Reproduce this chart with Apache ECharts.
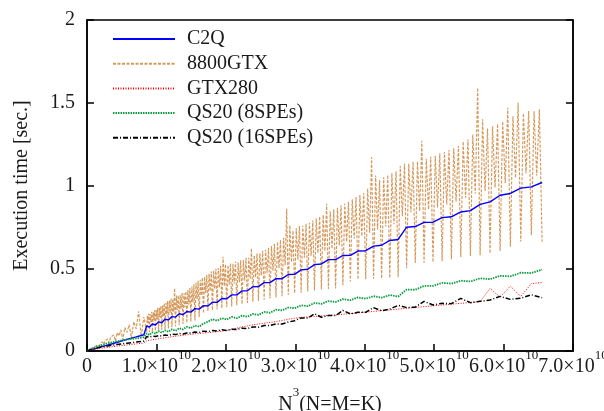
<!DOCTYPE html>
<html>
<head>
<meta charset="utf-8">
<script src="https://cdn.jsdelivr.net/npm/echarts@6/dist/echarts.min.js"></script>
<style>html,body{margin:0;padding:0;background:#fff;}#c{width:604px;height:411px;}</style>
</head>
<body>
<div id="c"></div>
<script>
// Series names
const seriesNames = ['C2Q', '8800GTX', 'GTX280', 'QS20 (8SPEs)', 'QS20 (16SPEs)'];

// Matrix sizes N (x = N^3) for the 8800GTX run
const nGtx8800 = [64,128,192,256,320,384,448,512,576,640,704,768,832,896,960,1024,
1056,1088,1120,1152,1184,1216,1248,1280,1312,1344,1376,1408,1440,1472,1504,1536,1568,1600,1632,1664,1696,1728,1760,1792,1824,1856,1888,1920,1952,1984,2016,2048,
2056,2064,2072,2080,2088,2096,2104,2112,2120,2128,2136,2144,2152,2160,2168,2176,
2184,2192,2200,2208,2216,2224,2232,2240,2248,2256,2264,2272,2280,2288,2296,2304,
2312,2320,2328,2336,2344,2352,2360,2368,2376,2384,2392,2400,2408,2416,2424,2432,
2440,2448,2456,2464,2472,2480,2488,2496,2504,2512,2520,2528,2536,2544,2552,2560,
2568,2576,2584,2592,2600,2608,2616,2624,2632,2640,2648,2656,2664,2672,2680,2688,
2696,2704,2712,2720,2728,2736,2744,2752,2760,2768,2776,2784,2792,2800,2808,2816,
2824,2832,2840,2848,2856,2864,2872,2880,2888,2896,2904,2912,2920,2928,2936,2944,
2952,2960,2968,2976,2984,2992,3000,3008,3016,3024,3032,3040,3048,3056,3064,3072,
3080,3088,3096,3104,3112,3120,3128,3136,3144,3152,3160,3168,3176,3184,3192,3200,
3208,3216,3224,3232,3240,3248,3256,3264,3272,3280,3288,3296,3304,3312,3320,3328,
3336,3344,3352,3360,3368,3376,3384,3392,3400,3408,3416,3424,3432,3440,3448,3456,
3464,3472,3480,3488,3496,3504,3512,3520,3528,3536,3544,3552,3560,3568,3576,3584,
3592,3600,3608,3616,3624,3632,3640,3648,3656,3664,3672,3680,3688,3696,3704,3712,
3720,3728,3736,3744,3752,3760,3768,3776,3784,3792,3800,3808,3816,3824,3832,3840,
3848,3856,3864,3872,3880,3888,3896,3904,3912,3920,3928,3936,3944,3952,3960,3968,
3976,3984,3992,4000,4008,4016,4024,4032];

const t8800GTX = [0.000,0.001,0.001,0.002,0.002,0.003,0.004,0.005,0.007,0.008,0.011,0.012,0.016,0.017,0.022,0.024,
0.029,0.022,0.034,0.030,0.040,0.030,0.047,0.043,0.055,0.040,0.063,0.056,0.073,0.050,0.084,0.072,0.097,0.060,0.111,0.091,0.127,0.069,0.142,0.112,0.159,0.078,0.177,0.134,0.240,0.088,0.207,0.112,
0.213,0.170,0.225,0.114, 0.223,0.176,0.237,0.117, 0.234,0.184,0.246,0.121, 0.247,0.192,0.261,0.125,
0.261,0.201,0.273,0.129, 0.275,0.210,0.289,0.133, 0.290,0.220,0.302,0.138, 0.303,0.229,0.317,0.143,
0.314,0.238,0.380,0.149, 0.335,0.246,0.337,0.156, 0.336,0.255,0.350,0.163, 0.348,0.265,0.360,0.170,
0.369,0.279,0.381,0.177, 0.389,0.293,0.403,0.185, 0.412,0.315,0.424,0.205, 0.430,0.335,0.444,0.228,
0.448,0.350,0.460,0.241, 0.467,0.362,0.481,0.246, 0.485,0.375,0.497,0.252, 0.501,0.385,0.515,0.258,
0.570,0.392,0.525,0.264, 0.518,0.400,0.530,0.269, 0.527,0.408,0.541,0.276, 0.536,0.415,0.548,0.283,
0.549,0.425,0.563,0.290, 0.563,0.436,0.620,0.297, 0.577,0.446,0.589,0.304, 0.591,0.457,0.605,0.310,
0.611,0.470,0.623,0.317, 0.634,0.485,0.648,0.324, 0.659,0.501,0.671,0.331, 0.684,0.518,0.860,0.340,
0.760,0.537,0.726,0.349, 0.741,0.552,0.755,0.352, 0.757,0.564,0.769,0.359, 0.774,0.576,0.788,0.365,
0.801,0.592,0.813,0.371, 0.822,0.604,0.890,0.375, 0.844,0.617,0.856,0.378, 0.866,0.638,0.880,0.398,
0.890,0.661,0.902,0.420, 0.916,0.680,0.930,0.432, 0.943,0.694,0.955,0.434, 0.981,0.714,1.170,0.436,
1.060,0.735,1.031,0.438, 1.050,0.752,1.064,0.442, 1.074,0.766,1.086,0.446, 1.118,0.815,1.132,0.500,
1.131,0.838,1.143,0.532, 1.145,0.846,1.270,0.534, 1.162,0.856,1.174,0.537, 1.180,0.867,1.194,0.542,
1.203,0.885,1.215,0.555, 1.225,0.903,1.239,0.568, 1.266,0.926,1.278,0.574, 1.308,0.950,1.590,0.579,
1.400,0.967,1.344,0.590, 1.358,0.988,1.372,0.605, 1.388,1.015,1.470,0.630, 1.418,1.046,1.500,0.662,
1.436,1.074,1.450,0.700, 1.448,1.060,1.460,0.660];

// Matrix sizes N for the other runs
const nOther = [128,256,384,512,640,768,896,1024,1152,1280,1408,1536,1664,1792,1920,2016,
2048,2080,2112,2144,2176,2208,2240,2272,2304,2336,2368,2400,2432,2464,2496,2528,2560,2592,2624,2656,2688,2720,2752,2784,2816,2848,2880,2912,2944,2976,3008,3040,3072,3104,3136,3168,3200,3232,3264,3296,3328,3360,3392,3424,3456,3488,3520,3552,3584,3616,3648,3680,3712,3744,3776,3808,3840,3872,3904,3936,3968,4000,4032];

const tC2Q = [0.000,0.000,0.001,0.002,0.003,0.005,0.009,0.013,0.019,0.026,0.034,0.044,0.056,0.070,0.085,0.098,
0.151,0.145,0.163,0.157,0.176,0.171,0.192,0.188,0.208,0.205,0.225,0.220,0.239,0.235,0.256,0.253,0.274,0.272,0.295,0.294,0.317,0.316,0.339,0.339,0.363,0.364,0.388,0.389,0.413,0.413,0.437,0.437,0.462,0.463,0.490,0.494,0.522,0.526,0.552,0.552,0.577,0.578,0.604,0.606,0.634,0.639,0.668,0.674,0.748,0.752,0.777,0.778,0.806,0.811,0.840,0.848,0.886,0.901,0.941,0.952,0.984,0.992,1.018];

const tGTX280 = [0.000,0.000,0.001,0.002,0.003,0.005,0.007,0.010,0.013,0.017,0.021,0.026,0.031,0.037,0.043,0.048,
0.062,0.065,0.068,0.071,0.074,0.077,0.080,0.083,0.086,0.089,0.092,0.095,0.098,0.101,0.104,0.106,0.108,0.111,0.114,0.117,0.120,0.124,0.130,0.138,0.146,0.152,0.158,0.163,0.168,0.173,0.178,0.184,0.192,0.198,0.203,0.206,0.209,0.212,0.215,0.218,0.222,0.226,0.230,0.235,0.239,0.244,0.248,0.253,0.258,0.263,0.268,0.273,0.278,0.283,0.288,0.293,0.298,0.378,0.325,0.392,0.330,0.407,0.414];

const tQS20_8 = [0.000,0.001,0.002,0.004,0.007,0.010,0.015,0.021,0.028,0.036,0.045,0.053,0.061,0.069,0.077,0.083,
0.106,0.097,0.113,0.105,0.120,0.111,0.125,0.116,0.131,0.122,0.138,0.130,0.146,0.138,0.154,0.147,0.166,0.177,0.192,0.183,0.198,0.190,0.206,0.198,0.214,0.207,0.224,0.218,0.236,0.231,0.250,0.245,0.263,0.258,0.276,0.271,0.290,0.285,0.302,0.296,0.313,0.307,0.324,0.316,0.331,0.322,0.338,0.329,0.371,0.370,0.393,0.393,0.412,0.407,0.425,0.420,0.439,0.434,0.454,0.451,0.473,0.471,0.492];

const tQS20_16 = [0.000,0.001,0.001,0.003,0.005,0.007,0.010,0.014,0.019,0.024,0.029,0.035,0.041,0.047,0.054,0.060,
0.087,0.084,0.090,0.088,0.093,0.091,0.097,0.094,0.101,0.099,0.106,0.103,0.109,0.108,0.115,0.112,0.120,0.117,0.124,0.121,0.128,0.124,0.132,0.130,0.138,0.136,0.145,0.144,0.154,0.154,0.164,0.163,0.175,0.183,0.200,0.199,0.225,0.204,0.214,0.214,0.245,0.224,0.234,0.234,0.262,0.243,0.253,0.276,0.262,0.265,0.300,0.278,0.288,0.286,0.318,0.292,0.300,0.308,0.330,0.312,0.319,0.340,0.322];

// Axis ticks
const xTicks = [0, 1e10, 2e10, 3e10, 4e10, 5e10, 6e10, 7e10];
const yTicks = [0, 0.5, 1, 1.5, 2];

function pairs(ns, ys) {
  const out = [];
  const n = Math.min(ns.length, ys.length);
  for (let i = 0; i < n; i++) out.push([ns[i] * ns[i] * ns[i], ys[i]]);
  return out;
}

const FONT = "'Liberation Serif', 'DejaVu Serif', serif";
const TXT = '#1a1a1a';

const chart = echarts.init(document.getElementById('c'), null, {renderer: 'canvas'});

const styles = {
  'C2Q': {color: '#0000ff', type: 'solid', width: 1.4, z: 3},
  '8800GTX': {color: '#d6985a', type: [3, 1.5], width: 1.15, z: 1},
  'GTX280': {color: '#ff0000', type: [1, 1.5], width: 1, z: 4},
  'QS20 (8SPEs)': {color: '#0a9e40', type: [1.5, 1], width: 1.8, z: 5},
  'QS20 (16SPEs)': {color: '#000000', type: [5, 2, 1, 2], width: 1.5, z: 6}
};
const dataMap = {
  'C2Q': pairs(nOther, tC2Q),
  '8800GTX': pairs(nGtx8800, t8800GTX),
  'GTX280': pairs(nOther, tGTX280),
  'QS20 (8SPEs)': pairs(nOther, tQS20_8),
  'QS20 (16SPEs)': pairs(nOther, tQS20_16)
};

const series = seriesNames.map(name => ({
  name: name,
  type: 'line',
  data: dataMap[name],
  symbol: 'none',
  showSymbol: false,
  sampling: null,
  z: styles[name].z,
  lineStyle: {color: styles[name].color, type: styles[name].type, width: styles[name].width},
  itemStyle: {color: styles[name].color},
  emphasis: {disabled: true},
  silent: true,
  animation: false
}));

const yMin = yTicks[0], yMax = yTicks[yTicks.length - 1];
const xMin = xTicks[0], xMax = xTicks[xTicks.length - 1];

const richMain = {fontFamily: FONT, fontSize: 20, color: TXT, lineHeight: 28, verticalAlign: 'bottom'};
const richSup = {fontFamily: FONT, fontSize: 13, color: TXT, lineHeight: 13, verticalAlign: 'top'};

chart.setOption({
  animation: false,
  backgroundColor: '#ffffff',
  grid: {left: 87, right: 31, top: 20, bottom: 60, show: true, borderColor: '#000', borderWidth: 1.5,
         backgroundColor: 'transparent', containLabel: false, outerBoundsMode: 'none'},
  legend: {
    orient: 'vertical', left: 112, top: 29, padding: 0,
    itemWidth: 62, itemHeight: 10, itemGap: 4.7,
    data: seriesNames,
    itemStyle: {opacity: 0},
    textStyle: {fontFamily: FONT, fontSize: 20, color: TXT, lineHeight: 20, padding: [0, 0, 0, 7]},
    selectedMode: false
  },
  xAxis: {
    type: 'value', min: xMin, max: xMax, interval: 1e10,
    name: '{n|N}{s|3}{n|(N=M=K)}', nameLocation: 'middle', nameGap: 35.5,
    nameTextStyle: {rich: {n: richMain, s: richSup}},
    axisLine: {show: true, lineStyle: {color: '#000', width: 1.5}},
    axisTick: {show: true, inside: true, length: 7, lineStyle: {color: '#000', width: 1.5}},
    splitLine: {show: false},
    axisLabel: {
      margin: -2,
      hideOverlap: false,
      formatter: v => v === 0 ? '{m|0}{s|\u200b}' : '{m|' + (v / 1e10).toFixed(1) + '×10}{s|10}',
      rich: {m: richMain, s: richSup}
    }
  },
  yAxis: [{
    type: 'value', min: yMin, max: yMax, interval: 0.5, position: 'left',
    name: 'Execution time [sec.]', nameLocation: 'middle', nameGap: 55,
    nameTextStyle: {fontFamily: FONT, fontSize: 20, color: TXT},
    axisLine: {show: true, lineStyle: {color: '#000', width: 1.5}},
    axisTick: {show: true, inside: true, length: 7, lineStyle: {color: '#000', width: 1.5}},
    splitLine: {show: false},
    axisLabel: {fontFamily: FONT, fontSize: 20, color: TXT, margin: 12}
  }, {
    type: 'value', min: yMin, max: yMax, interval: 0.5, position: 'right',
    axisLine: {show: true, lineStyle: {color: '#000', width: 1.5}},
    axisTick: {show: true, inside: true, length: 7, lineStyle: {color: '#000', width: 1.5}},
    splitLine: {show: false},
    axisLabel: {show: false}
  }],
  series: series
});
</script>
</body>
</html>
